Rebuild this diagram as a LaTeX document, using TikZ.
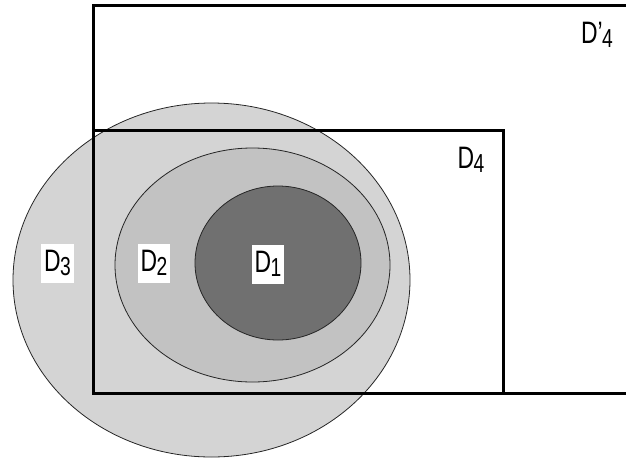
\documentclass[tikz,border=0pt]{standalone}
\usepackage{fontspec}
\setmainfont[FakeStretch=0.74]{Liberation Sans}
\usetikzlibrary{shapes.geometric, positioning}

\newcommand{\lowidx}[1]{\kern-0.5pt\raisebox{-0.13em}{\fontsize{26}{26}\selectfont #1}}

\begin{document}
\begin{tikzpicture}[
        x=1pt, y=-1pt,
        region/.style={ellipse, draw=black!85, line width=0.8pt, inner sep=0pt},
        tag/.style={fill=white, inner sep=3pt, minimum height=39pt, font=\fontsize{31}{31}\selectfont},
        plain/.style={inner sep=2pt, font=\fontsize{31}{31}\selectfont},
        frame/.style={line width=3pt, line cap=rect}
    ]
        \useasboundingbox (0,0) rectangle (626,461);

        % nested domains
        \node[region, fill=black!17, minimum width=397pt, minimum height=354pt] (d3) at (211.5,280) {};
        \node[region, fill=black!24, minimum width=275pt, minimum height=234pt] (d2) at (252.5,265) {};
        \node[region, fill=black!56, minimum width=166pt, minimum height=154pt] (d1) at (278,263) {};

        % rectangles
        \node[draw, frame, rectangle, inner sep=0pt, minimum width=410pt, minimum height=263pt] (d4) at (298,261.5) {};
        \coordinate (ne) at (640,5);
        \coordinate (nw) at (93,5);
        \coordinate (sw) at (93,393);
        \coordinate (se) at (640,393);
        \draw[frame] (ne) -- (nw) -- (sw) -- (se);

        % labels
        \node[tag] (l3) at (57.5,263) {D\lowidx{3}};
        \node[tag] (l2) at (154,263) {D\lowidx{2}};
        \node[tag] (l1) at (268,264) {D\lowidx{1}};
        \node[plain] (l4) at (471,160) {D\lowidx{4}};
        \node[plain] (l4p) at (597,35) {D’\lowidx{4}};
    \end{tikzpicture}
\end{document}
